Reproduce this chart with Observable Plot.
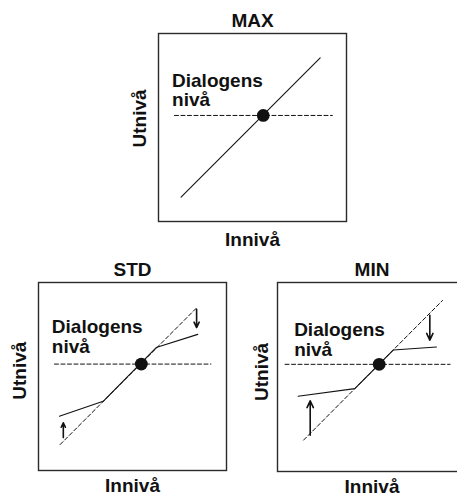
<!DOCTYPE html>
<html>
<head>
<meta charset="utf-8">
<script src="https://cdn.jsdelivr.net/npm/d3@7"></script>
<script src="https://cdn.jsdelivr.net/npm/@observablehq/plot@0.6"></script>
<style>
  html, body { margin: 0; padding: 0; background: #fff; }
  #wrap { position: relative; width: 457px; height: 495px; overflow: hidden; }
  #wrap svg { position: absolute; overflow: visible; }
</style>
</head>
<body>
<div id="wrap"></div>
<script>
// ---- text ----
const titles = ["MAX", "STD", "MIN"];
const xTitle = "Innivå";
const yTitle = "Utnivå";
const levelText = ["Dialogens", "nivå"];

// ---- MAX panel (fractions of the box, y from bottom) ----
const maxLineX = [0.12, 0.86];
const maxLineY = [0.13, 0.87];
const maxDot = [0.557, 0.564];
const maxLevelX = [0.085, 0.925];
const maxTextPos = [0.072, 0.718, 0.612]; // x, baseline line1, baseline line2

// ---- STD panel ----
const stdDiagX = [0.115, 0.838];
const stdDiagY = [0.138, 0.862];
const stdCurveX = [0.111, 0.344, 0.626, 0.847];
const stdCurveY = [0.289, 0.368, 0.654, 0.724];
const stdDot = [0.547, 0.566];
const stdLevelX = [0.085, 0.917];
const stdArrowX = [0.132, 0.841];
const stdArrowFrom = [0.175, 0.857];
const stdArrowTo = [0.254, 0.760];
const stdTextPos = [0.071, 0.733, 0.624];

// ---- MIN panel ----
const minDiagX = [0.138, 0.873];
const minDiagY = [0.166, 0.905];
const minCurveX = [0.109, 0.409, 0.612, 0.841];
const minCurveY = [0.398, 0.4385, 0.6426, 0.659];
const minDot = [0.538, 0.567];
const minLevelX = [0.04, 0.913];
const minArrowX = [0.173, 0.806];
const minArrowFrom = [0.192, 0.827];
const minArrowTo = [0.374, 0.695];
const minTextPos = [0.088, 0.716, 0.61];

const FONT = "'Liberation Sans', Arial, Helvetica, sans-serif";
const INK = "#111";

function pts(X, Y) { return X.map((x, i) => ({x, y: Y[i]})); }

function panel(cfg) {
  const ml = 45, mt = 35, mr = 12, mb = 30, S = cfg.size;
  const marks = [
    Plot.frame({stroke: "#2a2a2a", strokeWidth: 1.4}),
    Plot.line(pts(cfg.levelX, [cfg.dot[1], cfg.dot[1]]), {x: "x", y: "y", stroke: INK, strokeWidth: 1, strokeDasharray: "4,2.5"})
  ];
  if (cfg.diagX) {
    marks.push(Plot.line(pts(cfg.diagX, cfg.diagY), {x: "x", y: "y", stroke: INK, strokeWidth: 1, strokeDasharray: "4,2.5"}));
  }
  marks.push(Plot.line(pts(cfg.curveX, cfg.curveY), {x: "x", y: "y", stroke: INK, strokeWidth: 1.1}));
  if (cfg.arrowX) {
    const arr = cfg.arrowX.map((x, i) => ({x, y1: cfg.arrowFrom[i], y2: cfg.arrowTo[i]}));
    marks.push(Plot.arrow(arr, {x1: "x", x2: "x", y1: "y1", y2: "y2", stroke: INK, strokeWidth: 1.6, headLength: 7, headAngle: 50}));
  }
  marks.push(Plot.dot([{x: cfg.dot[0], y: cfg.dot[1]}], {x: "x", y: "y", r: 6.4, fill: INK, stroke: "none"}));
  marks.push(Plot.text(levelText.map((t, i) => ({t, x: cfg.textPos[0], y: cfg.textPos[1 + i]})),
    {x: "x", y: "y", text: "t", textAnchor: "start", lineAnchor: "bottom", fontSize: 19, fontWeight: "bold", fill: INK}));
  marks.push(Plot.text([cfg.title], {x: 0.5, y: 1, text: d => d, dy: -7, lineAnchor: "bottom", fontSize: 19, fontWeight: "bold", fill: INK}));
  marks.push(Plot.text([xTitle], {x: 0.5, y: 0, text: d => d, dy: cfg.xLabelGap, lineAnchor: "bottom", fontSize: 19, fontWeight: "bold", fill: INK}));
  marks.push(Plot.text([yTitle], {x: 0, y: cfg.yLabelY, text: d => d, dx: -cfg.yLabelGap, rotate: -90, lineAnchor: "bottom", textAnchor: "middle", fontSize: 19, fontWeight: "bold", fill: INK}));

  const svg = Plot.plot({
    width: ml + S + mr,
    height: mt + S + mb,
    marginLeft: ml, marginTop: mt, marginRight: mr, marginBottom: mb,
    x: {domain: [0, 1], axis: null},
    y: {domain: [0, 1], axis: null},
    style: {fontFamily: FONT, background: "transparent", overflow: "visible"},
    marks
  });
  svg.style.left = (cfg.box[0] - ml) + "px";
  svg.style.top = (cfg.box[1] - mt) + "px";
  document.getElementById("wrap").appendChild(svg);
}

panel({title: titles[0], box: [158, 33], size: 188,
  levelX: maxLevelX, dot: maxDot, curveX: maxLineX, curveY: maxLineY,
  textPos: maxTextPos, yLabelY: 0.548, yLabelGap: 13, xLabelGap: 24});
panel({title: titles[1], box: [38, 282], size: 188,
  levelX: stdLevelX, dot: stdDot, diagX: stdDiagX, diagY: stdDiagY,
  curveX: stdCurveX, curveY: stdCurveY,
  arrowX: stdArrowX, arrowFrom: stdArrowFrom, arrowTo: stdArrowTo,
  textPos: stdTextPos, yLabelY: 0.531, yLabelGap: 13, xLabelGap: 21});
panel({title: titles[2], box: [277, 282], size: 189,
  levelX: minLevelX, dot: minDot, diagX: minDiagX, diagY: minDiagY,
  curveX: minCurveX, curveY: minCurveY,
  arrowX: minArrowX, arrowFrom: minArrowFrom, arrowTo: minArrowTo,
  textPos: minTextPos, yLabelY: 0.527, yLabelGap: 10, xLabelGap: 21});
</script>
</body>
</html>
